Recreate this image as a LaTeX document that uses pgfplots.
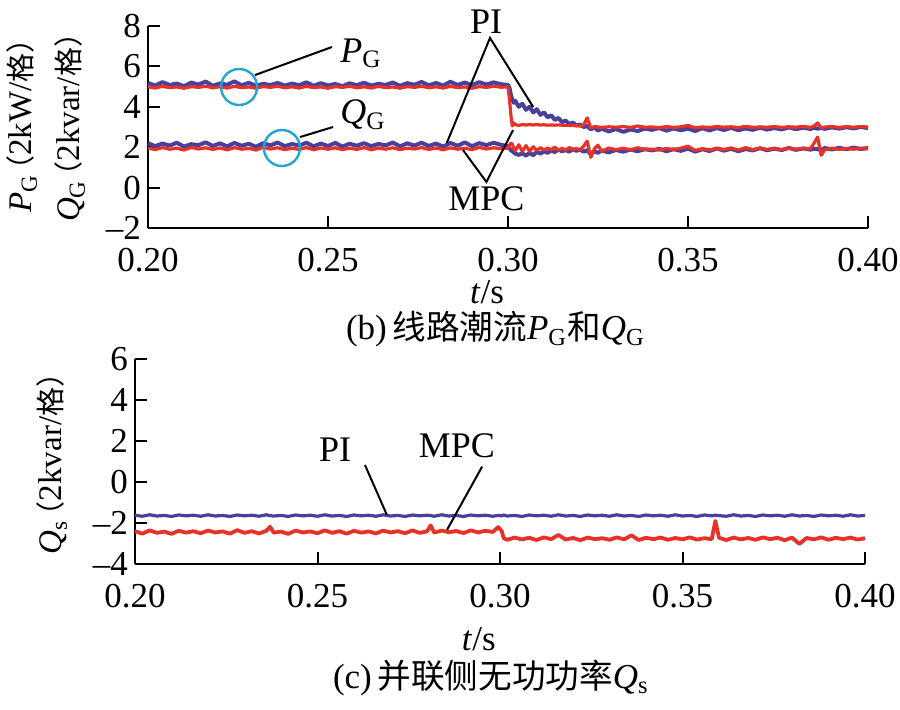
\documentclass[border=0pt]{standalone}
\usepackage{fontspec}
\setmainfont{Liberation Serif}
\newfontfamily\cjk[Scale=0.88]{Noto Sans CJK SC}
\newfontfamily\cjkc[Scale=0.96]{Noto Sans CJK SC}
\usepackage{pgfplots}
\usepackage{pgfplotstable}
\pgfplotsset{compat=1.18}
\definecolor{piblue}{RGB}{72,64,155}
\definecolor{mpcred}{RGB}{232,50,40}
\definecolor{circ}{RGB}{35,165,210}
\newcommand{\PG}{\textit{P}\textsubscript{G}}
\newcommand{\QG}{\textit{Q}\textsubscript{G}}
\newcommand{\Qs}{\textit{Q}\textsubscript{s}}
\newcommand{\fs}{\fontsize{17.5}{20}\selectfont}
\newcommand{\fa}{\fontsize{18}{21}\selectfont}

\pgfplotstableread{
t pgpi pgmpc qgpi qgmpc
0.200 5.18 4.99 2.20 1.96
0.202 5.05 4.93 2.05 1.88
0.204 5.22 5.01 2.18 1.98
0.206 5.08 4.95 2.08 1.90
0.208 5.15 4.98 2.22 1.95
0.210 5.02 4.92 2.03 1.86
0.212 5.20 5.00 2.15 1.99
0.214 5.10 4.96 2.10 1.91
0.216 5.25 5.02 2.24 1.97
0.218 5.04 4.94 2.06 1.89
0.220 5.16 4.99 2.19 1.96
0.222 5.09 4.93 2.04 1.87
0.224 5.26 5.01 2.21 1.98
0.226 5.06 4.95 2.07 1.90
0.228 5.19 4.98 2.17 1.94
0.230 5.03 4.92 2.02 1.86
0.232 5.14 5.00 2.20 1.99
0.234 5.08 4.96 2.09 1.91
0.236 5.18 5.02 2.23 1.97
0.238 5.05 4.94 2.05 1.88
0.240 5.15 4.99 2.16 1.95
0.242 5.07 4.93 2.08 1.89
0.244 5.21 5.01 2.22 1.98
0.246 5.04 4.95 2.04 1.87
0.248 5.17 4.98 2.18 1.96
0.250 5.06 4.92 2.06 1.90
0.252 5.13 5.00 2.21 1.97
0.254 5.02 4.96 2.03 1.88
0.256 5.16 5.02 2.17 1.95
0.258 5.07 4.94 2.07 1.89
0.260 5.19 4.99 2.20 1.98
0.262 5.05 4.93 2.05 1.87
0.264 5.14 5.01 2.16 1.96
0.266 5.08 4.95 2.09 1.90
0.268 5.20 4.98 2.23 1.97
0.270 5.04 4.92 2.04 1.88
0.272 5.17 5.00 2.19 1.95
0.274 5.09 4.96 2.08 1.91
0.276 5.23 5.02 2.22 1.98
0.278 5.06 4.94 2.06 1.89
0.280 5.18 4.99 2.18 1.96
0.282 5.05 4.93 2.03 1.87
0.284 5.24 5.01 2.21 1.97
0.286 5.08 4.95 2.07 1.90
0.288 5.20 4.98 2.24 1.95
0.290 5.07 4.92 2.05 1.88
0.292 5.22 5.00 2.20 1.99
0.294 5.10 4.96 2.10 1.91
0.296 5.21 5.02 2.22 1.97
0.298 5.12 4.97 2.12 1.93
0.3000 5.08 4.98 2.05 1.95
0.3004 4.95 4.40 1.95 2.10
0.3008 4.60 3.60 1.85 2.20
0.3012 4.35 3.05 1.80 2.15
0.3016 4.20 3.20 1.75 1.95
0.3020 4.30 3.12 1.68 1.82
0.3030 4.00 3.08 1.62 2.12
0.3040 4.15 3.12 1.70 1.78
0.3050 3.85 3.10 1.58 2.08
0.3060 4.00 3.12 1.72 1.80
0.3070 3.72 3.10 1.60 2.02
0.3080 3.88 3.12 1.78 1.84
0.3090 3.60 3.10 1.68 1.98
0.3100 3.72 3.11 1.80 1.86
0.3110 3.48 3.09 1.72 1.96
0.3120 3.58 3.10 1.84 1.88
0.3130 3.35 3.09 1.76 2.00
0.3140 3.45 3.10 1.88 1.85
0.3150 3.24 3.09 1.80 1.94
0.3160 3.32 3.08 1.86 1.86
0.3170 3.15 3.08 1.78 1.98
0.3180 3.22 3.07 1.90 1.88
0.3190 3.08 3.06 1.82 1.93
0.3200 3.12 3.05 1.88 1.87
0.3210 3.00 3.10 1.78 2.05
0.3220 3.05 3.45 1.85 2.30
0.3230 2.88 2.95 1.65 1.50
0.3240 2.98 3.02 1.80 1.92
0.3250 2.82 3.00 1.72 2.10
0.3260 2.92 2.98 1.84 1.80
0.3280 2.78 3.01 1.74 1.96
0.3300 2.90 2.99 1.86 1.88
0.3320 2.76 3.02 1.78 1.95
0.3340 2.88 2.98 1.88 1.87
0.3360 2.80 3.05 1.80 1.97
0.3380 2.92 2.99 1.90 1.89
0.340 2.86 3.00 1.84 1.90
0.342 2.95 2.97 1.92 1.86
0.344 2.82 3.02 1.80 1.94
0.346 2.93 2.98 1.90 1.88
0.348 2.84 3.01 1.82 1.95
0.350 2.92 3.08 1.93 2.05
0.352 2.80 2.96 1.78 1.84
0.354 2.94 3.00 1.90 1.92
0.356 2.83 2.98 1.81 1.87
0.358 2.95 3.02 1.94 1.94
0.360 2.85 2.99 1.83 1.89
0.362 2.96 3.01 1.92 1.96
0.364 2.84 2.97 1.80 1.86
0.366 2.93 3.03 1.91 1.98
0.368 2.86 2.98 1.84 1.88
0.370 2.97 3.00 1.95 1.95
0.372 2.87 2.99 1.85 1.89
0.374 2.95 3.02 1.93 1.94
0.376 2.88 2.98 1.86 1.87
0.378 2.98 3.01 1.96 1.96
0.380 2.89 2.99 1.87 1.90
0.382 2.97 3.03 1.94 1.94
0.384 2.90 2.98 1.88 1.92
0.385 2.96 3.05 1.92 2.20
0.386 2.92 3.20 1.90 2.50
0.387 2.95 2.96 1.86 1.60
0.388 2.91 3.00 1.96 1.88
0.390 2.98 3.02 1.89 1.95
0.392 2.92 2.98 1.97 1.89
0.394 2.99 3.01 1.90 1.94
0.396 2.93 2.99 1.98 1.90
0.398 3.00 3.02 1.91 1.95
0.400 2.95 3.00 1.96 1.92
}\toptab

\pgfplotstableread{
t pi mpc
0.200 -1.62 -2.40
0.202 -1.67 -2.52
0.204 -1.60 -2.36
0.206 -1.66 -2.48
0.208 -1.63 -2.42
0.210 -1.68 -2.53
0.212 -1.61 -2.38
0.214 -1.65 -2.47
0.216 -1.62 -2.40
0.218 -1.67 -2.50
0.220 -1.60 -2.37
0.222 -1.66 -2.46
0.224 -1.63 -2.41
0.226 -1.68 -2.52
0.228 -1.61 -2.35
0.230 -1.65 -2.48
0.232 -1.62 -2.40
0.234 -1.67 -2.51
0.236 -1.60 -2.38
0.237 -1.64 -2.18
0.238 -1.66 -2.47
0.240 -1.63 -2.42
0.242 -1.68 -2.53
0.244 -1.61 -2.37
0.246 -1.65 -2.46
0.248 -1.62 -2.41
0.250 -1.67 -2.50
0.252 -1.60 -2.36
0.254 -1.66 -2.48
0.256 -1.63 -2.40
0.258 -1.68 -2.52
0.260 -1.61 -2.38
0.262 -1.65 -2.47
0.264 -1.62 -2.41
0.266 -1.67 -2.51
0.268 -1.60 -2.37
0.270 -1.66 -2.46
0.272 -1.63 -2.40
0.274 -1.68 -2.50
0.276 -1.61 -2.36
0.278 -1.65 -2.48
0.280 -1.62 -2.41
0.281 -1.64 -2.12
0.282 -1.67 -2.47
0.284 -1.60 -2.37
0.286 -1.66 -2.45
0.288 -1.63 -2.39
0.290 -1.68 -2.49
0.292 -1.61 -2.36
0.294 -1.65 -2.46
0.296 -1.62 -2.38
0.298 -1.67 -2.44
0.2995 -1.63 -2.20
0.3005 -1.65 -2.40
0.301 -1.61 -2.74
0.302 -1.66 -2.82
0.304 -1.63 -2.71
0.306 -1.68 -2.80
0.308 -1.61 -2.72
0.310 -1.65 -2.83
0.312 -1.62 -2.70
0.314 -1.67 -2.79
0.316 -1.60 -2.58
0.318 -1.66 -2.81
0.320 -1.63 -2.73
0.322 -1.68 -2.84
0.324 -1.61 -2.71
0.326 -1.65 -2.79
0.328 -1.62 -2.74
0.330 -1.67 -2.82
0.332 -1.60 -2.70
0.334 -1.66 -2.80
0.336 -1.63 -2.60
0.338 -1.68 -2.83
0.340 -1.61 -2.72
0.342 -1.65 -2.79
0.344 -1.62 -2.71
0.346 -1.67 -2.82
0.348 -1.60 -2.73
0.350 -1.66 -2.80
0.352 -1.63 -2.70
0.354 -1.68 -2.81
0.356 -1.61 -2.74
0.358 -1.65 -2.79
0.359 -1.62 -1.90
0.360 -1.64 -2.72
0.362 -1.67 -2.83
0.364 -1.60 -2.71
0.366 -1.66 -2.80
0.368 -1.63 -2.73
0.370 -1.68 -2.82
0.372 -1.61 -2.70
0.374 -1.65 -2.79
0.376 -1.62 -2.72
0.378 -1.67 -2.84
0.380 -1.60 -2.71
0.382 -1.66 -3.02
0.384 -1.63 -2.73
0.386 -1.68 -2.80
0.388 -1.61 -2.70
0.390 -1.65 -2.82
0.392 -1.62 -2.72
0.394 -1.67 -2.79
0.396 -1.60 -2.71
0.398 -1.66 -2.81
0.400 -1.63 -2.74
}\bottab

\pgfplotsset{
  myaxis/.style={
    scale only axis,
    xmin=0.2, xmax=0.4,
    axis lines*=left,
    axis line style={line width=1pt},
    tick align=inside,
    major tick length=6pt,
    tick style={line width=1pt, black},
    xtick={0.2,0.25,0.3,0.35,0.4},
    xticklabels={0.20,0.25,0.30,0.35,0.40},
    tick label style={font=\fs},
    xticklabel style={yshift=-6.5pt},
    clip=false,
  }
}

\begin{document}
\begin{tikzpicture}
\useasboundingbox (0,0) rectangle (450pt,-355pt);

% ---------- top axis (b) ----------
\begin{axis}[myaxis,
  at={(74pt,-114pt)}, anchor=south west,
  width=360pt, height=101pt,
  ymin=-2, ymax=8,
  ytick={-2,0,2,4,6,8},
  yticklabels={\textendash2,0,2,4,6,8},
]
\addplot[piblue, line width=2pt, line join=round] table[x=t,y=pgpi]{\toptab};
\addplot[piblue, line width=2pt, line join=round] table[x=t,y=qgpi]{\toptab};
\addplot[mpcred, line width=1.6pt, line join=round] table[x=t,y=pgmpc]{\toptab};
\addplot[mpcred, line width=1.6pt, line join=round] table[x=t,y=qgmpc]{\toptab};

\draw[circ, line width=1.2pt] (axis cs:0.2253,4.98) circle[radius=9pt];
\draw[circ, line width=1.2pt] (axis cs:0.2372,1.96) circle[radius=9pt];
\draw[line width=1pt] (axis cs:0.2297,5.57) -- (axis cs:0.2511,6.96);
\draw[line width=1pt] (axis cs:0.2422,2.5) -- (axis cs:0.2514,3.0);
\node[anchor=base west, font=\fa, inner sep=0pt] at (axis cs:0.2533,6.2) {\PG};
\node[anchor=base west, font=\fa, inner sep=0pt] at (axis cs:0.2533,3.15) {\QG};

\draw[line width=1pt] (axis cs:0.283,2.21) -- (axis cs:0.295,7.41) -- (axis cs:0.307,3.99);
\draw[line width=1pt] (axis cs:0.2875,1.86) -- (axis cs:0.294,0.28) -- (axis cs:0.3014,2.85);
\node[anchor=base, font=\fa, inner sep=0pt] at (axis cs:0.2939,7.65) {PI};
\node[anchor=base, font=\fa, inner sep=0pt] at (axis cs:0.294,-1.11) {MPC};

\node[anchor=base, font=\fs, inner sep=0pt] at (axis cs:0.2942,-2) [yshift=-38pt] {\textit{t}/s};
\node[anchor=base, font=\fs, inner sep=0pt] at (axis cs:0.2965,-2) [yshift=-56pt] {(b)\,{\cjkc 线路潮流}\PG{\cjkc 和}\QG};
\end{axis}

% ---------- bottom axis (c) ----------
\begin{axis}[myaxis,
  at={(67.5pt,-282pt)}, anchor=south west,
  width=365pt, height=102.5pt,
  ymin=-4, ymax=6,
  ytick={-4,-2,0,2,4,6},
  yticklabels={\textendash4,\textendash2,0,2,4,6},
]
\addplot[piblue, line width=1.6pt, line join=round] table[x=t,y=pi]{\bottab};
\addplot[mpcred, line width=1.9pt, line join=round] table[x=t,y=mpc]{\bottab};

\draw[line width=1pt] (axis cs:0.263,0.83) -- (axis cs:0.269,-1.6);
\draw[line width=1pt] (axis cs:0.2951,0.75) -- (axis cs:0.2855,-2.33);
\node[anchor=base, font=\fa, inner sep=0pt] at (axis cs:0.2548,0.99) {PI};
\node[anchor=base, font=\fa, inner sep=0pt] at (axis cs:0.2882,1.19) {MPC};

\node[anchor=base, font=\fs, inner sep=0pt] at (axis cs:0.2942,-4) [yshift=-43pt] {\textit{t}/s};
\node[anchor=base, font=\fs, inner sep=0pt] at (axis cs:0.2975,-4) [yshift=-62pt] {(c)\,{\cjkc 并联侧无功功率}\Qs};
\end{axis}

% ---------- y labels ----------
\node[rotate=90, font=\fontsize{16.5}{18}\selectfont, inner sep=0pt] at (11pt,-62.5pt) {\PG\kern-0.3em{\cjk （}2kW/{\cjk 格）}\kern-0.4em};
\node[rotate=90, font=\fontsize{16.5}{18}\selectfont, inner sep=0pt] at (35pt,-63.5pt) {\QG\kern-0.3em{\cjk （}2kvar/{\cjk 格）}\kern-0.4em};
\node[rotate=90, font=\fontsize{16.5}{18}\selectfont, inner sep=0pt] at (26pt,-231.5pt) {\Qs\kern-0.3em{\cjk （}2kvar/{\cjk 格）}\kern-0.4em};
\end{tikzpicture}
\end{document}
